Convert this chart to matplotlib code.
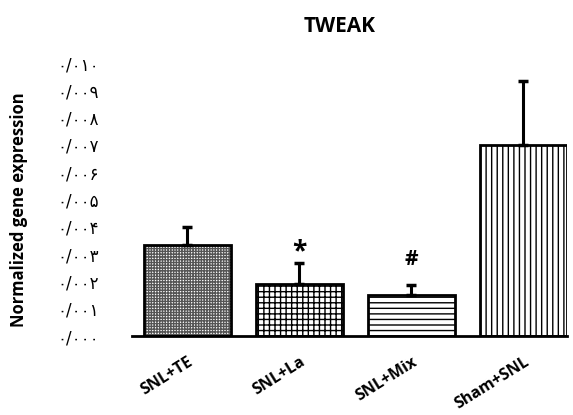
import numpy as np
import matplotlib
matplotlib.use('Agg')
import matplotlib.pyplot as plt

# ── Data ─────────────────────────────────────────────
groups = ['SNL+TE', 'SNL+La', 'SNL+Mix', 'Sham+SNL']
means = [0.00335, 0.0019, 0.0015, 0.0070]
errs = [0.00063, 0.00078, 0.00037, 0.00234]
marks = ['', '*', '#', '']
yticks = np.arange(0, 0.0101, 0.001)
ytick_labels = ['۰/۰۰۰', '۰/۰۰۱', '۰/۰۰۲', '۰/۰۰۳', '۰/۰۰۴', '۰/۰۰۵',
                '۰/۰۰۶', '۰/۰۰۷', '۰/۰۰۸', '۰/۰۰۹', '۰/۰۱۰']

# ── Styles ───────────────────────────────────────────
hatches = ['++++++', '+++', '---', '|||']
hatch_cols = ['#555555', 'black', 'black', 'black']
TXT = ['Open Sans', 'DejaVu Sans']

fig = plt.figure(figsize=(5.73, 4.15), dpi=100)
ax = fig.add_axes([132/573, 1 - 336/415, (567 - 132)/573, (336 - 63)/415])

x = np.arange(len(groups))
w = 0.78
ax.bar(x, means, width=w, color='white', edgecolor=hatch_cols, hatch=hatches, linewidth=0)
ax.bar(x, means, width=w, color='none', edgecolor='black', linewidth=2.0)
ax.errorbar(x, means, yerr=[np.zeros(len(means)), errs], fmt='none', ecolor='black',
            elinewidth=2.2, capsize=3.5, capthick=2.5, clip_on=False)

for xi, m, e, mk in zip(x, means, errs, marks):
    if mk == '*':
        ax.annotate(mk, (xi, m + e), xytext=(0, -2), textcoords='offset points',
                    ha='center', va='bottom', fontsize=19, fontweight='bold', family=TXT)
    elif mk:
        ax.annotate(mk, (xi, m + e), xytext=(0, 11), textcoords='offset points',
                    ha='center', va='bottom', fontsize=15, fontweight='bold', family=TXT)

ax.set_xlim(-0.495, 3.39)
ax.set_ylim(0, 0.010)
for s in ['top', 'right', 'left']:
    ax.spines[s].set_visible(False)
ax.spines['bottom'].set_linewidth(2.0)
ax.set_yticks(yticks)
ax.set_yticklabels(ytick_labels, family=['DejaVu Sans'], fontsize=12)
ax.tick_params(axis='y', length=0, pad=24)
ax.set_xticks(x)
ax.set_xticklabels(groups, rotation=32, ha='right', rotation_mode='anchor',
                   fontsize=11.5, fontweight='bold', family=TXT)
ax.tick_params(axis='x', length=0, pad=13)

fig.text(19/573, 1 - 210/415, 'Normalized gene expression', rotation=90, ha='center', va='center',
         fontsize=12, fontweight='bold', family=TXT)
fig.text(340/573, 1 - 27/415, 'TWEAK', ha='center', va='center', fontsize=15,
         fontweight='bold', family=TXT)

fig.savefig('out.png', dpi=100, facecolor='white')
